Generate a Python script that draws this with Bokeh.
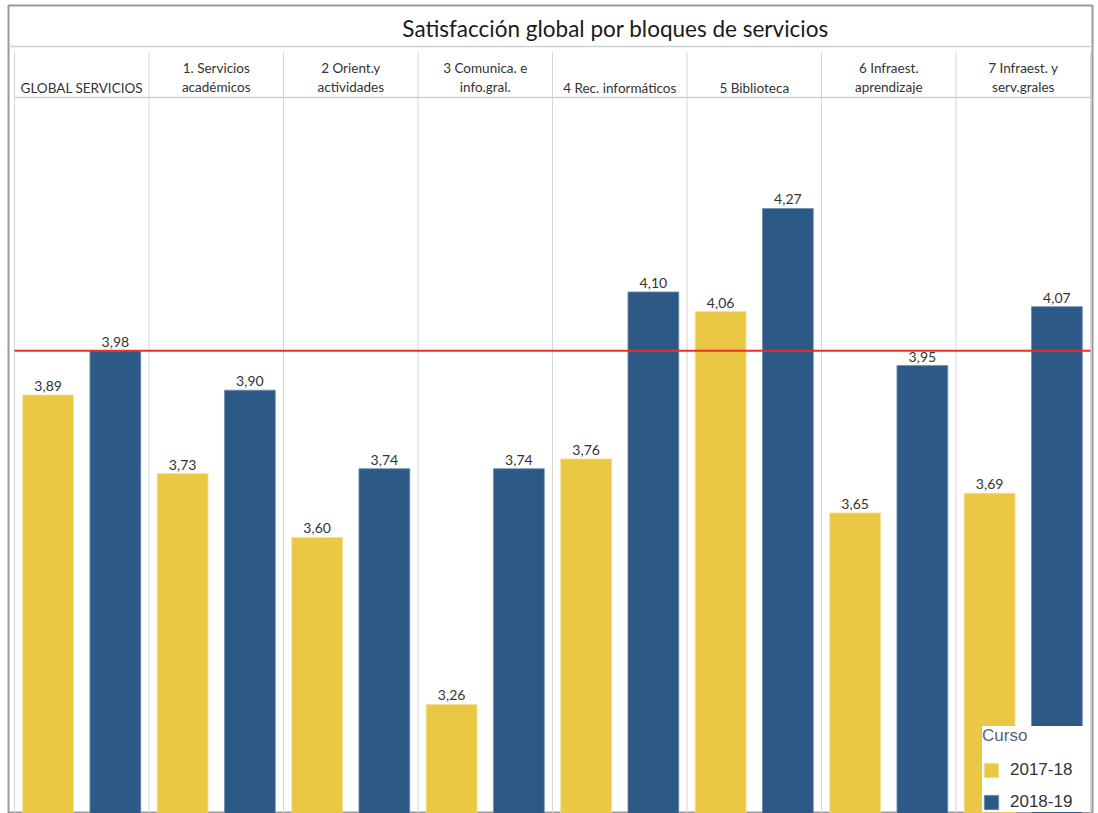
from bokeh.plotting import figure
from bokeh.models import Range1d, Legend, LegendItem, ColumnDataSource
from bokeh.embed import file_html
from bokeh.resources import INLINE
from bokeh.core.properties import value

# ---- data ----
categories = ["GLOBAL SERVICIOS", "1. Servicios\nacadémicos", "2 Orient.y\nactividades",
              "3 Comunica. e\ninfo.gral.", "4 Rec. informáticos", "5 Biblioteca",
              "6 Infraest.\naprendizaje", "7 Infraest. y\nserv.grales"]
years = ["2017-18", "2018-19"]
v_2017_18 = [3.89, 3.73, 3.60, 3.26, 3.76, 4.06, 3.65, 3.69]
v_2018_19 = [3.98, 3.90, 3.74, 3.74, 4.10, 4.27, 3.95, 4.07]
reference_value = 3.98
title_text = "Satisfacción global por bloques de servicios"

# ---- layout helpers ----
W, H = 1098, 813
FL, FR, FT = 8, 1092, 5          # frame pixel edges
PXU_X = 134.5                    # pixels per panel
X0_PIX = 14                      # pixel of x=0
PXU_Y = 491.0                    # pixels per unit of value
Y_TOP = 4.6834                   # value at frame top

def xd(px):
    return (px - X0_PIX) / PXU_X

def yd(py):
    return Y_TOP - (py - FT) / PXU_Y

YELLOW = "#EBC844"
BLUE = "#2C5985"
FONT = "Lato"

p = figure(width=W, height=H, output_backend="svg", toolbar_location=None,
           x_range=Range1d(xd(FL), xd(FR)), y_range=Range1d(yd(H), Y_TOP),
           min_border_left=FL, min_border_right=W - FR, min_border_top=FT,
           min_border_bottom=0)
p.axis.visible = False
p.grid.visible = False
p.outline_line_color = "#9a9a9a"
p.outline_line_width = 2
p.background_fill_color = "white"
p.border_fill_color = "white"

n = len(categories)
idx = list(range(n))
x1 = [i + 0.25 for i in idx]
x2 = [i + 0.75 for i in idx]
base = yd(H) - 0.2

src1 = ColumnDataSource(dict(x=x1, top=v_2017_18,
                             lab=[f"{v:.2f}".replace(".", ",") for v in v_2017_18]))
src2 = ColumnDataSource(dict(x=x2, top=v_2018_19,
                             lab=[f"{v:.2f}".replace(".", ",") for v in v_2018_19]))

# panel dividers
p.segment(x0=[float(i) for i in range(n + 1)], y0=[base] * (n + 1),
          x1=[float(i) for i in range(n + 1)], y1=[yd(52)] * (n + 1),
          line_color="#d6d6d6", line_width=1)
# horizontal separators
p.segment(x0=[xd(FL), 0.0], y0=[yd(46), yd(97)], x1=[xd(FR), float(n)], y1=[yd(46), yd(97)],
          line_color="#d0d0d0", line_width=1.5)

r1 = p.vbar(x="x", top="top", bottom=base, width=0.378, source=src1,
            fill_color=YELLOW, line_color="#f3df93", line_width=0.8)
r2 = p.vbar(x="x", top="top", bottom=base, width=0.378, source=src2,
            fill_color=BLUE, line_color="#6f8fb0", line_width=0.8)

for s in (src1, src2):
    p.text(x="x", y="top", text="lab", source=s, y_offset=-4,
           text_align="center", text_baseline="bottom",
           text_font=value(FONT), text_font_size="14px", text_color="#333333")

# reference line
p.segment(x0=[0.0], y0=[reference_value], x1=[float(n)], y1=[reference_value],
          line_color="#E8302A", line_width=2)

# headers
p.text(x=[i + 0.5 for i in idx], y=[yd(95)] * n, text=categories,
       text_align="center", text_baseline="bottom", text_line_height=1.2,
       text_font=value(FONT), text_font_size="13.5px", text_color="#333333")

# title
p.text(x=[xd(615)], y=[yd(28)], text=[title_text], text_align="center",
       text_baseline="middle", text_font=value(FONT), text_font_size="22.5px",
       text_color="#1a1a1a")

legend = Legend(items=[LegendItem(label=years[0], renderers=[r1]),
                       LegendItem(label=years[1], renderers=[r2])],
                title="Curso", location=(974, 1), orientation="vertical",
                title_text_font="Liberation Sans", title_text_font_size="17px",
                title_text_color="#56647a", title_text_font_style="normal",
                title_standoff=14,
                label_text_font="Liberation Sans", label_text_font_size="17px",
                label_text_color="#333333", label_width=80,
                glyph_width=18, glyph_height=18, spacing=12, padding=5,
                label_standoff=10, border_line_color=None, margin=0,
                background_fill_color="white", background_fill_alpha=1.0)
p.add_layout(legend, "center")

open("out.html", "w").write(file_html(p, INLINE))
